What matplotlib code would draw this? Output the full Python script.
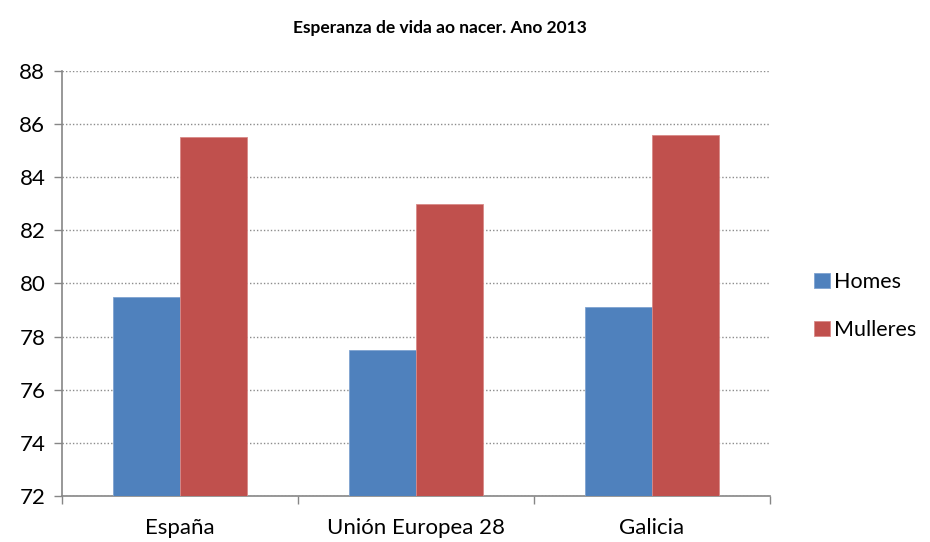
import matplotlib
matplotlib.use('Agg')
import matplotlib.pyplot as plt
import numpy as np

categories = ['España', 'Unión Europea 28', 'Galicia']
homes = [79.5, 77.5, 79.1]
mulleres = [85.5, 83.0, 85.6]
series_names = ['Homes', 'Mulleres']
yticks = [72, 74, 76, 78, 80, 82, 84, 86, 88]

plt.rcParams['font.family'] = ['Lato', 'DejaVu Sans']

fig = plt.figure(figsize=(9.3, 5.42), dpi=100)
ax = fig.add_axes([0.0667, 0.085, 0.761, 0.784])

x = np.arange(len(categories))
w = 0.284
ax.bar(x - w / 2, homes, w, color='#4F81BD', label=series_names[0],
       edgecolor='#7FA3D0', linewidth=0.6, zorder=3)
ax.bar(x + w / 2, mulleres, w, color='#C0504D', label=series_names[1],
       edgecolor='#D88A88', linewidth=0.6, zorder=3)

ax.set_ylim(72, 88)
ax.set_xlim(-0.5, 2.5)
ax.set_yticks(yticks)
ax.set_yticklabels([str(v) for v in yticks], fontsize=16)
ax.set_xticks(x)
ax.set_xticklabels(categories, fontsize=16)
ax.tick_params(axis='x', which='major', length=0, pad=16)
ax.set_xticks([-0.5, 0.5, 1.5, 2.5], minor=True)
ax.tick_params(axis='x', which='minor', length=6, color='#868686', width=1)
ax.tick_params(axis='y', length=6, color='#868686', width=1, pad=6, direction='out')

ax.yaxis.grid(True, linestyle=(0, (1, 1.5)), color='#8C8C8C', linewidth=1, zorder=0)
for s in ['top', 'right']:
    ax.spines[s].set_visible(False)
for s in ['left', 'bottom']:
    ax.spines[s].set_color('#868686')
    ax.spines[s].set_linewidth(1.2)

fig.text(0.473, 0.948, 'Esperanza de vida ao nacer. Ano 2013', ha='center', va='center',
         fontsize=12.5, fontweight='bold')

leg = ax.legend(loc='center left', bbox_to_anchor=(1.035, 0.447), frameon=False,
                fontsize=15.5, handlelength=0.75, handleheight=0.75, handletextpad=0.2,
                labelspacing=1.3)

fig.savefig('out.png', dpi=100)
